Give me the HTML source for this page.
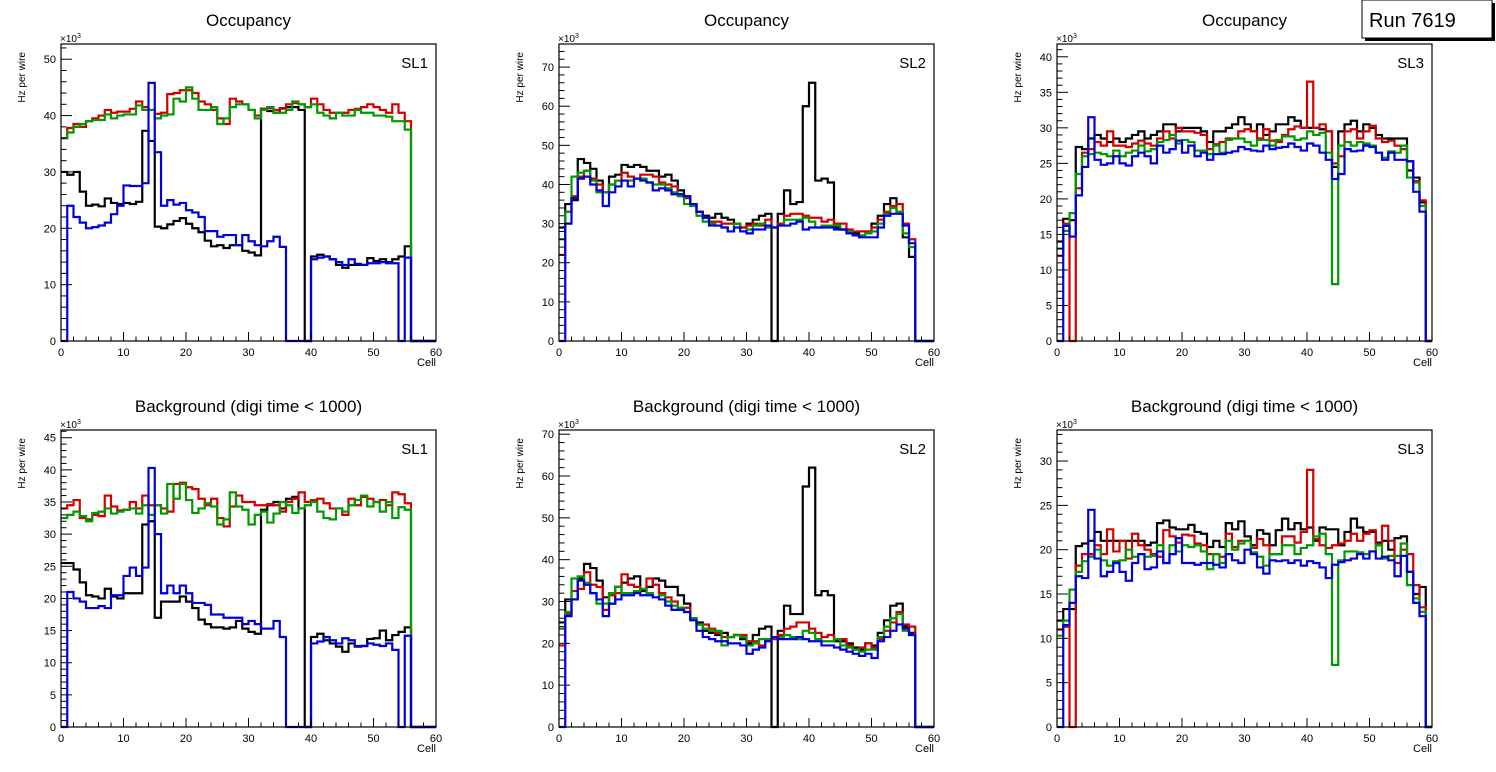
<!DOCTYPE html>
<html><head><meta charset="utf-8"><style>
body{margin:0;background:#fff;width:1496px;height:772px;overflow:hidden}
svg{display:block;font-family:"Liberation Sans",Arial,sans-serif}
</style></head><body>
<svg id="c" width="1496" height="772" viewBox="0 0 1496 772"></svg>
<script>
const cells=[0,60];
const titles=["Occupancy","Occupancy","Occupancy","Background (digi time < 1000)","Background (digi time < 1000)","Background (digi time < 1000)"];
const slLabels=["SL1","SL2","SL3","SL1","SL2","SL3"];
const yMax=[52.7,75.9,41.8,46.2,71,33.5];
const yMajor=[10,10,5,5,10,5];
const seriesColors=["#000000","#d40000","#009a00","#0000dd"];
const seriesNames=["black","red","green","blue"];

const p1Black=[30,29.5,30,26.5,24,24.2,23.9,25.3,24.5,24.3,24.5,24.3,24.7,37.3,35.5,20.3,20,20.7,21.3,21.8,20.8,20,19.3,17.8,16.8,17,16.5,17,17,16,15.7,15.2,41.2,40.8,40.5,41.3,41.5,41.5,41,0,15,15.3,15,14.5,13.5,13,13.5,13.5,13.5,14.7,14.2,14.5,14,14.5,15,16.8,0,0,0,0];
const p1Red=[36,37.8,38.5,38,39,39.5,40,41,40.5,40.7,40.7,41.2,42.5,41.5,41,40.3,40.5,43.8,44,44.5,44.5,44,42.5,42,41,39.5,38.5,43,42.5,42,41,40,41.2,41.3,41,41.2,42,42.2,42,41.5,43,42,41,40.5,40.5,40.5,41,41.2,41.5,42,41.5,41,40.5,42,40.5,39,0,0,0,0];
const p1Green=[36,37,38,38.5,39,39.2,39.2,40.2,39.5,40,40.2,40.2,41.8,41,41,39.5,40,40.2,43,42.5,45,43,41,41,41.5,38.5,39.5,41.5,42,42,41,39.5,41,41.5,40.5,40.5,41,42.5,42,41.5,42,40.5,40,39.5,40.5,40,40,41,40.5,40.5,40,40,39.8,39,39,37.5,0,0,0,0];
const p1Blue=[0,24,22,21,20,20.2,20.5,21,22.5,24,27.6,27.5,27.5,28,45.8,33.5,24,25,24.2,24.5,23.2,22.8,22,19.5,19.5,18.5,18.8,18.8,17,18.8,17.7,17,16.8,17.7,18.5,16.7,0,0,0,0,14.5,14.8,15,14.5,14,13.5,14.5,13.7,13.5,13.8,13.8,14,13.8,13.8,0,14.8,0,0,0,0];

const p2Black=[29,35,36,46.5,45.5,44,41,38,42,42.5,45,44.5,45,44.5,43.5,43.5,42,42.5,41,38.5,37,35,33,32,31.5,32.5,31.5,31,30,29,30,31,32,32.5,0,32.5,38.5,35,35.5,60,66,41,41.5,40.5,29,28.5,28,27.5,28,28,30,32,35,36.5,33,26.5,21.5,0,0,0];
const p2Red=[22,33,37,42,43.5,41.5,40,38,40,41,43,42,41.5,42.5,42.5,42,40.5,40,39.5,37.5,36.5,35,33,31.5,30.5,30.5,30,30,30,29,29.5,30,29.5,31,29,30,32,32.5,32.5,32,31.5,31.5,30.5,31,30,30,28.5,28,28,28,29,31,33,34.5,35,30,26,0,0,0];
const p2Green=[26,33,42,43,43.5,41,38,38,40,41,41,41,41.5,41.5,40.5,40,40,39,38,37,35,34.5,32,30.5,30,29.5,29,28,30,28,28.5,29.5,30,29,29,29.5,31,31,31,31.5,30.5,29,29.5,29.5,29.5,28.5,28,27,27,27.5,28,30,32.5,34,33,27.5,24,0,0,0];
const p2Blue=[0,30,36.5,41.5,42,40,38.5,34.5,38,39.5,41,39.5,41.5,41,40.5,38.5,39,38.5,37.5,37.5,37,35,33,31.5,29.5,29.5,29,28,29,28,27.5,28.5,28.5,29.5,29,29.5,29.5,30,30.5,28.5,29,29,29,29,28.5,28.5,27.5,27,26.5,26.5,26.5,29,32,32.5,32.5,29.5,25,0,0,0];

const p3Black=[14,17.2,17,27.3,27,28.5,29,28.5,28,28.5,28,28.5,29,29.5,28.5,29,29.5,30.5,30.5,29.5,30,30,30,29.5,28,29.5,29.5,30,30.5,31.5,30.5,29.5,30.5,29,29.5,30.5,30.5,31.5,31,30,30,30,29.8,29.5,24.5,29.5,30.5,31,29.5,30.5,30,29,28.5,28.5,28.5,28.5,24,23,19.5,0];
const p3Red=[12,16.5,0,21.5,26.5,27,28,27.5,29.5,27.5,27.5,27.3,27.8,28.2,27.8,27.5,28.5,29.5,28.5,30,29.5,29.5,29.3,29,27,27.7,28,28.5,28.5,29.5,29.8,29.5,28.5,29.8,28.2,28,29,29.8,30.2,30,36.5,30,30.5,29.5,25,26,29.5,29.8,28.5,29.5,30.3,28.5,28,28.2,27.5,27,25.3,22.5,19.8,0];
const p3Green=[13,15.5,18,23.5,26,26.3,26.5,26.3,26,26.8,26,26.5,26.8,27.5,26.7,27,28,28.3,29,27.8,28.3,28,26.8,26.8,26.3,27.5,26.5,28.3,28.5,28.5,28,27.5,28.3,28.3,27.5,28.3,28.8,28.8,28.3,28.5,29.5,29,29.3,26.5,8,27.5,28,27.5,28,27.8,27.5,26.5,25.8,26.7,26.5,27.5,23,22.3,19,0];
const p3Blue=[0,16.2,14.7,20.5,24.5,31.5,25.5,24.8,25,26,25,24.7,26,26.5,26,25,27.5,26.5,27,28.2,26.5,27.5,26,26.5,25.5,26.3,26.3,26.5,26.7,27.3,27,26.8,26.7,27.5,27,27.2,27.3,27.8,27.3,26.8,27.8,27.5,26.5,25.5,22.8,23.5,27,26.7,26.8,27.5,27.3,26.5,25.5,26.5,25.5,25.5,25.3,21,18.2,0];

const p4Black=[25.5,25.5,24.5,22.5,20.5,20.3,20,21.5,20.3,20,20.8,20.8,20.8,31.5,32,17,19.5,19.5,19.5,20.3,19.5,18.5,16.7,16,15.5,15.5,15.3,15.5,16.5,15.3,14.8,14.5,33.8,34.5,35,34,35.5,35.8,34,0,14,14.5,13.5,13,12.5,11.7,13,12.5,12.6,13.7,13.8,15,13.5,14.3,14.8,15.5,0,0,0,0];
const p4Red=[34,34.5,35.3,32.5,32.3,33,32.8,36,34.3,33.7,33.8,35,34,36,34.5,34.5,34,33.5,37.8,38,37.3,37,35.5,34.5,35.5,32.5,31.2,34.3,36,35,35,34.5,34.5,34.7,34.5,33.5,35,35.5,36.5,35,35.3,35.5,34.8,34,34,33,35.5,34.5,35.8,35.5,35,35.3,34.5,36.5,36.2,34.8,0,0,0,0];
const p4Green=[32.5,33,33.5,32.8,32,33.3,33.5,34,33.2,33.5,33.8,34,33.2,34.5,33,34.5,33.2,37.8,35.5,37.8,35.3,33.3,34,34.8,34.3,31.5,32.3,36.5,34.3,33.8,31.5,33,33.5,31.8,33.2,35,34.5,33.3,34,34.5,35,33.5,32.5,32.3,34,33.5,34.5,35.3,36,34.3,35,33.5,35,32.5,34.2,33.8,0,0,0,0];
const p4Blue=[0,21,20,19.5,18.5,18.5,18.8,18.5,20.5,20.5,23.5,24.8,23.5,24.8,40.3,30,20.8,22,20.8,22,20.8,19.3,19.3,19,17.5,17.5,17,17,17,16,16.5,16,15.3,15.3,16.5,14,0,0,0,0,13,13.3,14,13.5,13,13.8,13.5,12.6,12.6,13,12.8,12.6,13,12,0,14.2,0,0,0,0];

const p5Black=[25,30.5,30.5,35.5,39,38,35,31,29.5,33.5,34.5,35.5,36,32.5,33.5,35.5,35,33.5,33.5,31.5,29.5,26,25,23,22.5,22,22.5,21.5,22,21,20,22,23.5,24,0,23,29,27,27,57.5,62,31.5,32.5,31.5,20.5,20.5,20,19,18.5,20,19.5,22.5,25.5,29,29.5,24,22.5,0,0,0];
const p5Red=[19.5,27,32.5,33,37,34,33.5,28,31.5,32,36.5,34,33.5,33,35.5,34,32,31,30,28,28.5,26,24.5,24.5,23.5,22.5,21.5,21.5,22,22,20.5,20.5,19.5,21,21,22,23.5,24,25,25,23.5,22.5,21.5,22,21,21,19.5,18.5,19,20,19,21,23,25,27.5,24.5,24,0,0,0];
const p5Green=[23.5,27.5,35.5,36,34.5,32,29.5,29.5,32,33.5,32,32,32.5,33,32,31,31.5,30,29,28.5,27.5,26,24.5,23.5,23,23,19.5,21.5,22,21.5,19.5,20,21,21,21.5,21.5,22,21.5,21,23,22.5,21,20.5,20.5,21,19.5,19,18.5,18,18.5,18.5,21.5,24,26,27,23,22,0,0,0];
const p5Blue=[0,26.5,30.5,35,34,32,30.5,26.5,29.5,30.5,31.5,31.5,32,31.5,31.5,31,30.5,29,28,28,27.5,25.5,23,21.5,21,20.5,20.5,20,20,19.5,17.5,18.5,19,20.5,21.5,21,21,21,21.5,21,20.5,20.5,19.5,19.5,19,18.5,18,17.5,17,17.5,16.5,20.5,21.5,23,24.5,23.5,22,0,0,0];

const p6Black=[12,13.3,13.3,20.4,20.7,21,22,21,21,21,21,21,21,21,20.5,20.8,23,23.3,22.5,22.3,22.3,22.8,22,21.8,20.3,21,20.3,23,22.3,23.2,21.5,20.5,22.2,21.8,20.5,22.2,23.5,22.3,23,22.3,22.5,21,22.5,22.3,22.3,20.5,22,23.5,22.5,22,22,20.8,21,20,21.3,21.5,17.5,15,15.8,0];
const p6Red=[11,11.3,0,18.2,19.5,19.5,20.5,19.5,22.3,19.8,21,19,21.8,20.5,20,19.5,19.2,22.2,21.5,20.8,21.7,21.6,20.7,20.5,19.5,19.5,19.2,21.8,20.3,21,21,20.2,21.2,20.5,19.5,19.5,21.5,21.5,20.8,22,29,21.2,20.5,20.2,20.5,20.7,21,21.8,21,21.8,22.2,20.5,22.7,21,18.5,20,19.5,16,13.5,0];
const p6Green=[10.3,12,15.5,17.5,18.7,19.2,20,18.8,18.2,18.7,18.8,20,19.2,19.5,19.2,19.3,20.5,18.5,20.5,19.8,20.5,20.3,20.5,19.8,17.8,19.5,18.5,21,20,20.7,21,19.7,19.2,18.2,19.5,19.5,20.5,20.5,19.5,20.2,20.5,21.5,21.8,19.5,7,18.8,19.8,19.8,19.7,19.5,19.8,20.5,19,19.3,19.3,20.7,16,14.5,13,0];
const p6Blue=[0,11.5,14,17,16.8,24.5,19,17,17.5,18.5,17.5,16.5,18.5,19.5,17.8,18,19.8,18.5,19.5,21.3,18.5,18.5,18.3,18.5,18.5,18.3,18,19.5,18.8,18.5,20,19.5,18,17.3,18.8,18.7,18.8,18.5,18.8,18.2,18.7,18.5,18,16.8,18.3,18.6,18.8,19,19.5,19,19.8,19,19.2,18.8,17,19.3,17.5,14,12.5,0];

const panelData=[[p1Black,p1Red,p1Green,p1Blue],[p2Black,p2Red,p2Green,p2Blue],[p3Black,p3Red,p3Green,p3Blue],[p4Black,p4Red,p4Green,p4Blue],[p5Black,p5Red,p5Green,p5Blue],[p6Black,p6Red,p6Green,p6Blue]];

const NS="http://www.w3.org/2000/svg";
const svg=document.getElementById('c');
function mk(tag,attrs,parent,text){const e=document.createElementNS(NS,tag);for(const k in attrs)e.setAttribute(k,attrs[k]);if(text!==undefined)e.textContent=text;parent.appendChild(e);return e;}

for(let p=0;p<6;p++){
  const col=p%3,row=Math.floor(p/3);
  const L=61+col*498,R=L+375,T=44+row*386,B=T+297;
  const g=mk('g',{},svg);
  
  
  const xs=v=>L+(v-cells[0])/(cells[1]-cells[0])*(R-L);
  const ys=v=>B-v/yMax[p]*(B-T);
  const t=mk('text',{x:(L+R)/2,y:T-18,'text-anchor':'middle','font-size':'17'},g,titles[p]);
  
  
  // series
  const data=panelData[p];
  for(let s=0;s<4;s++){
    const vals=data[s];const n=vals.length;
    let d='M'+xs(0)+','+ys(vals[0]);
    for(let i=0;i<n;i++){
      if(i>0)d+=' V'+ys(vals[i]);
      d+=' H'+xs((i+1)*(cells[1]-cells[0])/n);
    }
    const path=mk('path',{d:d,fill:'none',stroke:seriesColors[s],'stroke-width':'2.2'},g);
    
    
  }
  const fr=mk('rect',{x:L,y:T,width:R-L,height:B-T,fill:'none',stroke:'#000','stroke-width':'1.2'},g);
  
  
  // y ticks
  const minor=yMajor[p]/5;
  for(let v=0;v<=yMax[p]+1e-6;v+=minor){
    const isMaj=Math.abs(v/yMajor[p]-Math.round(v/yMajor[p]))<1e-6;
    const y=ys(v);
    mk('line',{x1:L,x2:L+(isMaj?11:5.5),y1:y,y2:y,stroke:'#000','stroke-width':'1'},g);
    if(isMaj){
      const lab=mk('text',{x:L-5,y:y+4,'text-anchor':'end','font-size':'11'},g,Math.round(v));
      
      
    }
  }
  // x ticks
  for(let v=0;v<=60;v+=2){
    const isMaj=v%10===0;const x=xs(v);
    mk('line',{x1:x,x2:x,y1:B,y2:B-(isMaj?9:4.5),stroke:'#000','stroke-width':'1'},g);
    if(isMaj){
      const lab=mk('text',{x:x,y:B+15,'text-anchor':'middle','font-size':'11'},g,v);
      
      
    }
  }
  const xt=mk('text',{x:R,y:B+25,'text-anchor':'end','font-size':'11'},g,'Cell');
  
  
  const yt=mk('text',{x:0,y:0,'text-anchor':'end','font-size':'10',transform:'translate('+(L-36)+','+(T+8)+') rotate(-90)'},g,'Hz per wire');
  
  
  const ex=mk('text',{x:L-1,y:T-2,'font-size':'10'},g);
  
  
  ex.textContent='×10';
  mk('tspan',{dy:'-4','font-size':'7'},ex,'3');
  const sl=mk('text',{x:R-8,y:T+24,'text-anchor':'end','font-size':'15'},g,slLabels[p]);
  
  
}
const rg=mk('g',{},svg);


mk('rect',{x:1365,y:3,width:130,height:38,fill:'#000'},rg);
mk('rect',{x:1362,y:0,width:130,height:38,fill:'#fff',stroke:'#000','stroke-width':'1'},rg);
mk('text',{x:1369,y:27,'font-size':'20'},rg,'Run 7619');
</script>
</body></html>
